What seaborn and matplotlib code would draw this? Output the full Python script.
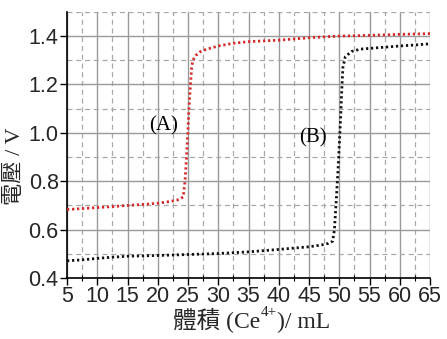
import matplotlib
matplotlib.use("Agg")
import matplotlib.pyplot as plt
from matplotlib.ticker import MultipleLocator
import pandas as pd
import seaborn as sns

# Titration curve (A): volume of Ce4+ (mL) vs potential (V)
vol_a = [5, 7, 10, 12.5, 15, 17.5, 20, 22, 23.5, 24.2, 24.5, 24.8, 25.0, 25.2,
         25.4, 25.6, 25.8, 26.3, 27, 28, 30, 32.5, 35, 40, 45, 50, 55, 60, 65]
volt_a = [0.683, 0.686, 0.691, 0.695, 0.700, 0.704, 0.709, 0.716, 0.724, 0.735,
          0.80, 0.92, 1.02, 1.12, 1.20, 1.27, 1.300, 1.320, 1.335, 1.345, 1.359,
          1.370, 1.377, 1.383, 1.393, 1.400, 1.403, 1.407, 1.410]

# Titration curve (B)
vol_b = [5, 7.5, 10, 12.5, 15, 20, 25, 30, 35, 40, 45, 47, 48.2, 48.9, 49.2,
         49.5, 49.8, 50.0, 50.2, 50.4, 50.6, 51, 52, 53.5, 55, 57.5, 60, 62.5, 65]
volt_b = [0.471, 0.475, 0.481, 0.486, 0.490, 0.493, 0.497, 0.501, 0.508, 0.518,
          0.529, 0.536, 0.543, 0.552, 0.60, 0.72, 0.85, 0.95, 1.05, 1.17, 1.27,
          1.315, 1.336, 1.346, 1.349, 1.354, 1.359, 1.363, 1.368]

x_ticks = list(range(5, 70, 5))
y_ticks = [0.4, 0.6, 0.8, 1.0, 1.2, 1.4]

sns.set_theme(style="white")
plt.rcParams["font.family"] = ["Liberation Sans", "Noto Sans CJK TC", "DejaVu Sans"]

fig = plt.figure(figsize=(4.47, 3.39), dpi=100)
ax = fig.add_axes([0.150, 0.180, 0.812, 0.785])

df_a = pd.DataFrame({"vol": vol_a, "volt": volt_a})
df_b = pd.DataFrame({"vol": vol_b, "volt": volt_b})

sns.lineplot(data=df_a, x="vol", y="volt", ax=ax, color="#d42a2a",
             linewidth=2.0, linestyle=(0, (0.8, 1.0)), sort=False, zorder=3)
sns.lineplot(data=df_b, x="vol", y="volt", ax=ax, color="#111111",
             linewidth=2.0, linestyle=(0, (0.8, 1.0)), sort=False, zorder=3)

ax.set_xlim(5, 65)
ax.set_ylim(0.4, 1.5)
ax.set_xticks(x_ticks)
ax.set_yticks(y_ticks)
ax.set_xticklabels([str(v) for v in x_ticks])
ax.set_yticklabels([f"{v:.1f}" for v in y_ticks])
ax.xaxis.set_minor_locator(MultipleLocator(2.5))
ax.yaxis.set_minor_locator(MultipleLocator(0.1))

ax.grid(which="major", color="#9a9a9a", linewidth=1.0, linestyle="-")
ax.grid(which="minor", color="#a8a8a8", linewidth=0.9, linestyle=(0, (4, 3)))
ax.set_axisbelow(True)

for side in ("top", "right"):
    ax.spines[side].set_visible(False)
for side in ("left", "bottom"):
    ax.spines[side].set_color("black")
    ax.spines[side].set_linewidth(1.2)

ax.tick_params(axis="both", which="major", direction="out", length=5,
               width=1.0, color="black", labelsize=15.5, pad=1,
               bottom=True, left=True)
ax.tick_params(axis="x", which="minor", direction="inout", length=4,
               width=0.8, color="black", bottom=True)
ax.tick_params(axis="y", which="minor", left=False)
ax.set_xlabel("")
ax.set_ylabel("")

serif_cjk = ["Liberation Serif", "Noto Sans CJK TC", "DejaVu Sans"]

# x-axis title built from pieces so the superscript charge sits raised
xl_main = ax.text(0.292, -0.207, "體積 (Ce", family=serif_cjk, fontsize=17,
                  ha="left", va="bottom", transform=ax.transAxes,
                  clip_on=False)
xl_sup = ax.annotate("4+", xy=(1, 0), xycoords=xl_main, xytext=(0.3, 10),
                     textcoords="offset points", family=serif_cjk,
                     fontsize=11, ha="left", va="bottom")
ax.annotate(")/ mL", xy=(1, 0), xycoords=(xl_sup, xl_main), xytext=(0.3, 0),
            textcoords="offset points", family=serif_cjk, fontsize=17,
            ha="left", va="bottom")

ax.set_ylabel("電壓 / V", family=serif_cjk, fontsize=16)
ax.yaxis.set_label_coords(-0.115, 0.42)

ax.text(20.9, 1.03, "(A)", family="Liberation Serif", fontsize=15,
        ha="center", va="center", color="black")
ax.text(45.7, 0.98, "(B)", family="Liberation Serif", fontsize=15,
        ha="center", va="center", color="black")

fig.savefig("out.png", dpi=100)
